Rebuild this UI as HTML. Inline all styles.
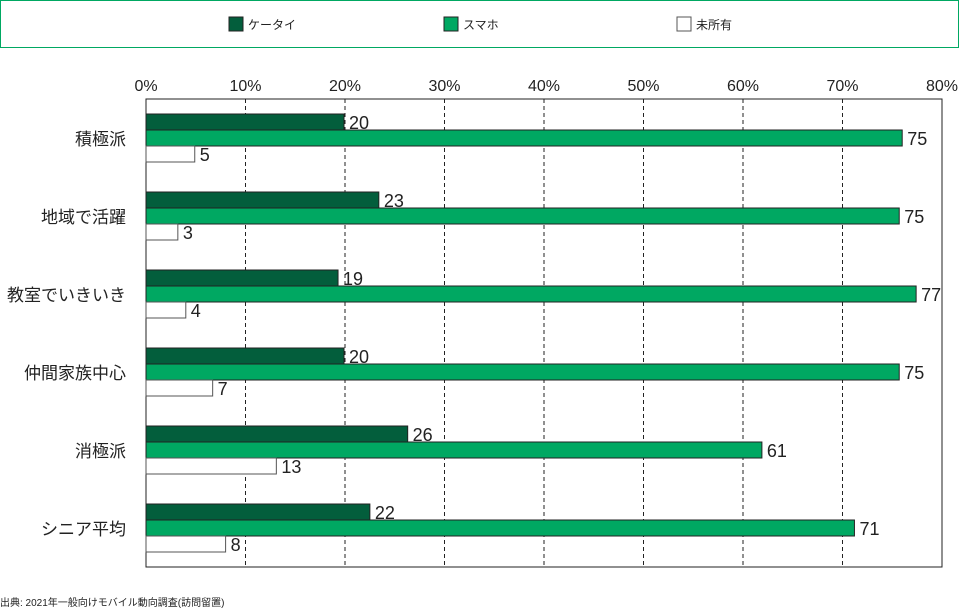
<!DOCTYPE html>
<html><head><meta charset="utf-8"><style>
body{margin:0;background:#fff;width:960px;height:611px;overflow:hidden;font-family:"Liberation Sans","Noto Sans CJK JP",sans-serif}
</style></head><body>
<svg width="960" height="611" xmlns="http://www.w3.org/2000/svg" style="font-family:'Liberation Sans','Noto Sans CJK JP',sans-serif">
<rect x="0.5" y="0.5" width="958" height="47" fill="#fff" stroke="#00a862" stroke-width="1"/>
<g id="legend"></g>
<g id="grid"></g>
<g id="bars"></g>
<text x="0" y="606" font-size="10" fill="#222">出典: 2021年一般向けモバイル動向調査(訪問留置)</text>
</svg>
<script>
const categories=["積極派","地域で活躍","教室でいきいき","仲間家族中心","消極派","シニア平均"];
const seriesNames=["ケータイ","スマホ","未所有"];
const keitai=[19.9,23.4,19.3,19.9,26.3,22.5];
const smaho=[76.0,75.7,77.4,75.7,61.9,71.2];
const mishoyu=[4.9,3.2,4.0,6.7,13.1,8.0];
const keitaiLabels=["20","23","19","20","26","22"];
const smahoLabels=["75","75","77","75","61","71"];
const mishoyuLabels=["5","3","4","7","13","8"];
const ticks=[0,10,20,30,40,50,60,70,80];
const NS="http://www.w3.org/2000/svg";
const L=146,R=942,T=99,B=567,MAX=80;
const x=v=>L+(R-L)*v/MAX;
const gc=i=>138+i*78;
function mk(tag,attrs,parent,text){const e=document.createElementNS(NS,tag);for(const k in attrs)e.setAttribute(k,attrs[k]);if(text!==undefined)e.textContent=text;parent.appendChild(e);return e;}
const grid=document.getElementById('grid'),bars=document.getElementById('bars'),leg=document.getElementById('legend');
const fills=["#035e3c","#00a862","#ffffff"],strokes=["#222","#222","#555"];
const lx=[229,444,677];
seriesNames.forEach((n,i)=>{
 const r=mk('rect',{x:lx[i],y:17,width:14,height:14,fill:fills[i],stroke:strokes[i]},leg);
 
 
 const t=mk('text',{x:lx[i]+19,y:29,'font-size':12,fill:'#222'},leg,n);
 
 
});
ticks.forEach(v=>{
 if(v>0&&v<MAX){const g=mk('line',{x1:x(v),x2:x(v),y1:T,y2:B,stroke:'#222','stroke-dasharray':'4,3'},grid);
 
 }
 const t=mk('text',{x:x(v),y:91,'font-size':16,'text-anchor':'middle',fill:'#222'},grid,v+'%');
 
 
});
const fr=mk('rect',{x:L,y:T,width:R-L,height:B-T,fill:'none',stroke:'#222','stroke-width':1},grid);


const series=[keitai,smaho,mishoyu],labs=[keitaiLabels,smahoLabels,mishoyuLabels];
categories.forEach((c,i)=>{
 const cy=gc(i);
 const t=mk('text',{x:126,y:cy+7,'font-size':17,'text-anchor':'end',fill:'#222'},bars,c);
 
 
 series.forEach((s,j)=>{
  const y=cy-24+j*16;
  const r=mk('rect',{x:L,y:y,width:x(s[i])-L,height:16,fill:fills[j],stroke:strokes[j],'stroke-width':1},bars);
  
  
  const tx=mk('text',{x:x(s[i])+5,y:y+15,'font-size':18,fill:'#222'},bars,labs[j][i]);
  
  
 });
});
</script>
</body></html>
